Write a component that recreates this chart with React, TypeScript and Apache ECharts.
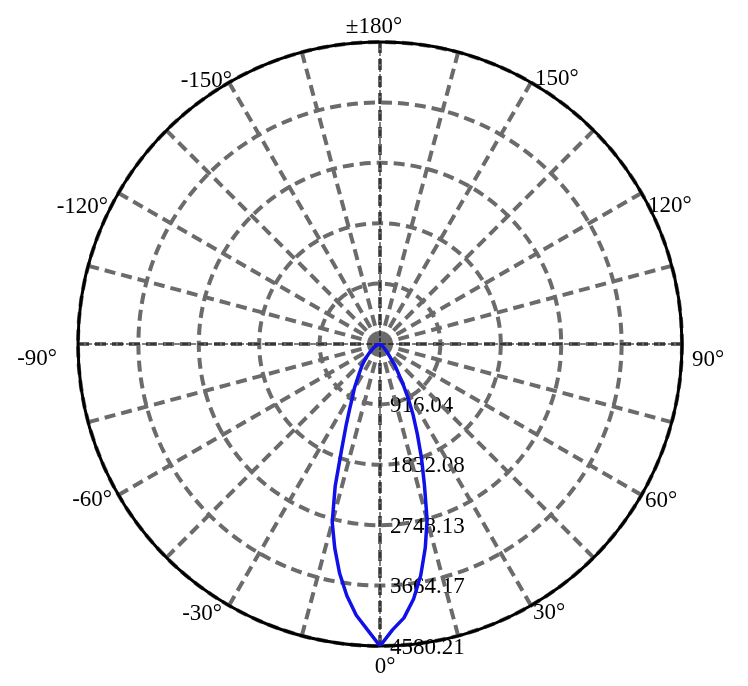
import { useEffect, useRef } from 'react';
import * as echarts from 'echarts';

// luminous intensity; angle 0 points straight down
const angles = [
    -180, -90, -80, -70, -60, -50, -45, -40, -35, -30, -27.5, -25, -22.5, -20, -17.5, -15, -12.5, -10, -7.5, -5, -2.5,
    0, 2.5, 5, 7.5, 10, 12.5, 15, 17.5, 20, 22.5, 25, 27.5, 30, 35, 40, 45, 50, 60, 70, 80, 90, 180
];
const intensity = [
    0, 0, 20, 50, 110, 215, 310, 420, 555, 780, 900, 1090, 1350, 1700, 2260, 2800, 3170, 3530, 3850, 4130, 4340,
    4580.21, 4340, 4170, 3900, 3560, 3170, 2760, 2240, 1840, 1480, 1190, 920, 690, 390, 190, 100, 50, 15, 5, 0, 0, 0
];

// rings: 916.04, 1832.08, 2748.13, 3664.17, 4580.21
const ringStep = 916.042;
const ringCount = 5;
const angleStep = 15;
const labelStep = 30;

// padding [top, right, bottom, left] nudging each angle label into place
const labelPad: Record<number, number[]> = {
    0: [56, 0, 0, 10],
    30: [36, 0, 0, 26],
    60: [17, 0, 0, 45],
    90: [28, 0, 0, 58],
    120: [0, 0, 1, 48],
    150: [0, 0, 35, 28],
    180: [0, 12, 53, 0],
    210: [0, 21, 33, 0],
    240: [0, 52, 0, 0],
    270: [26, 69, 0, 0],
    300: [16, 48, 0, 0],
    330: [37, 31, 0, 0]
};

const FONT = "'Liberation Serif', 'Times New Roman', serif";
const GRID = '#6b6b6b';
const DASH = [11, 6];

function angleText(v: number): string {
    if (v % labelStep !== 0 || v >= 360) return '';
    if (v === 180) return '±180°';
    return (v > 180 ? v - 360 : v) + '°';
}

export default function App() {
    const ref = useRef<HTMLDivElement | null>(null);

    useEffect(() => {
        if (!ref.current) return;
        const chart = echarts.init(ref.current, null, { renderer: 'svg' });

        const rich: Record<string, any> = {};
        Object.keys(labelPad).forEach(k => {
            rich['k' + k] = { padding: labelPad[Number(k)], fontSize: 23, fontFamily: FONT, color: '#000' };
        });

        chart.setOption({
            animation: false,
            polar: [
                { center: [380, 344], radius: 302 },
                { center: [380, 344], radius: 302 }
            ],
            angleAxis: [
                {
                    polarIndex: 0,
                    type: 'value',
                    min: 0,
                    max: 360,
                    interval: angleStep,
                    startAngle: 270,
                    clockwise: false,
                    z: 3,
                    axisLine: { lineStyle: { color: '#000', width: 3 } },
                    axisTick: { show: false },
                    splitLine: { lineStyle: { color: GRID, width: 4, type: DASH } },
                    axisLabel: {
                        margin: -48,
                        fontSize: 23,
                        fontFamily: FONT,
                        color: '#000',
                        formatter: (v: number) => {
                            const t = angleText(v);
                            return t ? `{k${v}|${t}}` : '';
                        },
                        rich
                    }
                },
                {
                    polarIndex: 1,
                    type: 'value',
                    min: 0,
                    max: 360,
                    interval: 90,
                    startAngle: 270,
                    clockwise: false,
                    z: 4,
                    axisLine: { show: false },
                    axisTick: { show: false },
                    axisLabel: { show: false },
                    splitLine: { lineStyle: { color: '#000', width: 1, type: [6, 2] } }
                }
            ],
            radiusAxis: [
                {
                    polarIndex: 0,
                    type: 'value',
                    min: 0,
                    max: ringStep * ringCount,
                    interval: ringStep,
                    axisLine: { show: false },
                    axisTick: { show: false },
                    splitLine: { lineStyle: { color: GRID, width: 4, type: DASH } },
                    axisLabel: {
                        margin: 10,
                        fontSize: 23,
                        fontFamily: FONT,
                        color: '#000',
                        formatter: (v: number) => (v === 0 ? '' : v.toFixed(2))
                    }
                },
                {
                    polarIndex: 1,
                    type: 'value',
                    min: 0,
                    max: ringStep * ringCount,
                    show: false
                }
            ],
            series: [
                {
                    type: 'line',
                    coordinateSystem: 'polar',
                    polarIndex: 0,
                    data: angles.map((a, i) => [intensity[i], a < 0 ? a + 360 : a]),
                    showSymbol: false,
                    symbol: 'none',
                    lineStyle: { color: '#1010e8', width: 3.5 },
                    z: 5
                }
            ]
        });

        return () => chart.dispose();
    }, []);

    return <div ref={ref} style={{ position: 'fixed', left: 0, top: 0, width: 748, height: 686 }} />;
}
